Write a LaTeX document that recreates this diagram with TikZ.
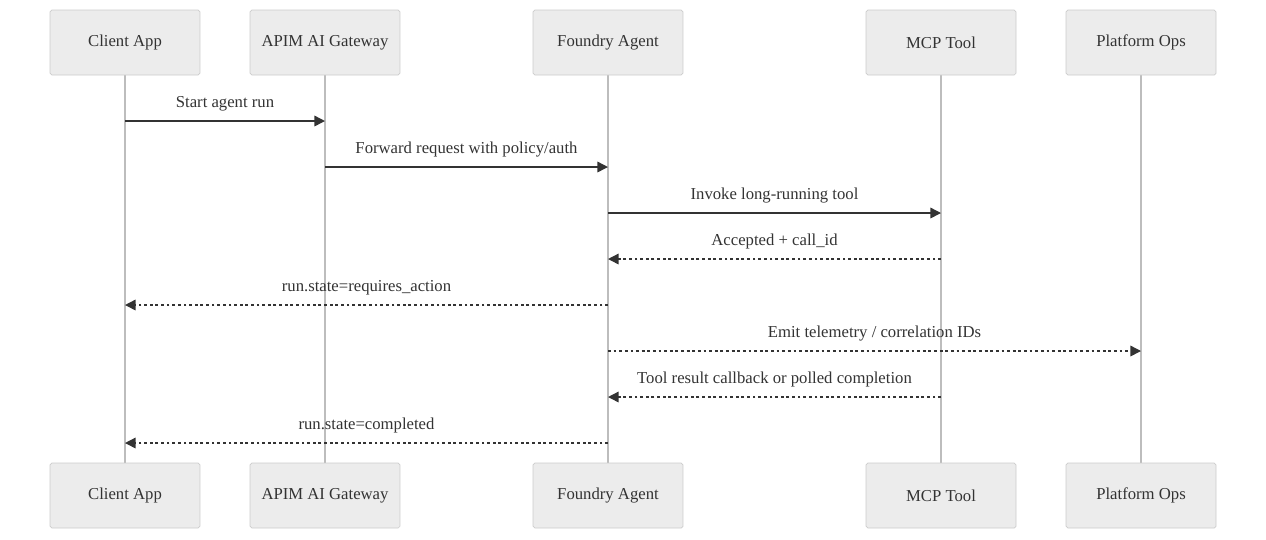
\documentclass[tikz,border=0pt]{standalone}
\usepackage{fontspec}
\setmainfont{Liberation Serif}
\usetikzlibrary{arrows.meta,positioning}
\definecolor{boxfill}{HTML}{ECECEC}
\definecolor{boxline}{HTML}{CCCCCC}
\definecolor{msgline}{HTML}{333333}
\tikzset{
  actor/.style={draw=boxline,fill=boxfill,rounded corners=1pt,minimum width=3cm,minimum height=1.3cm,font=\fontsize{9.5}{11}\selectfont,text=msgline},
  life/.style={draw=boxline!80!gray,line width=0.9pt},
  msg/.style={draw=msgline,line width=0.8pt,-{Triangle[length=6pt,width=6pt]}},
  reply/.style={msg,dash pattern=on 1.6pt off 1.6pt},
  lbl/.style={font=\fontsize{9.5}{11}\selectfont,text=msgline,above=2pt}
}
\begin{document}
\begin{tikzpicture}[x=0.02cm,y=-0.02cm]
\useasboundingbox (0,0) rectangle (1266,539);
% actors, top and bottom
\foreach \n/\x/\t in {ca/125/Client App,gw/325/APIM AI Gateway,fa/608/Foundry Agent,mcp/941/MCP Tool,ops/1141/Platform Ops}{
  \draw[life] (\x,75) -- (\x,463);
  \node[actor] (\n top) at (\x,42.5) {\t};
  \node[actor] (\n bot) at (\x,495.5) {\t};
}
% message endpoints
\foreach \n/\x in {ca/125,gw/325,fa/608,mcp/941,ops/1141}{
  \foreach \i/\y in {1/121,2/167,3/213,4/259,5/305,6/351,7/397,8/443}
    \coordinate (\n\i) at (\x,\y);
}
\draw[msg]   (ca1) -- node[lbl] {Start agent run} (gw1);
\draw[msg]   (gw2) -- node[lbl] {Forward request with policy/auth} (fa2);
\draw[msg]   (fa3) -- node[lbl] {Invoke long-running tool} (mcp3);
\draw[reply] (mcp4) -- node[lbl] {Accepted + call\_id} (fa4);
\draw[reply] (fa5) -- node[lbl] {run.state=requires\_action} (ca5);
\draw[reply] (fa6) -- node[lbl] {Emit telemetry / correlation IDs} (ops6);
\draw[reply] (mcp7) -- node[lbl] {Tool result callback or polled completion} (fa7);
\draw[reply] (fa8) -- node[lbl] {run.state=completed} (ca8);
\end{tikzpicture}
\end{document}
